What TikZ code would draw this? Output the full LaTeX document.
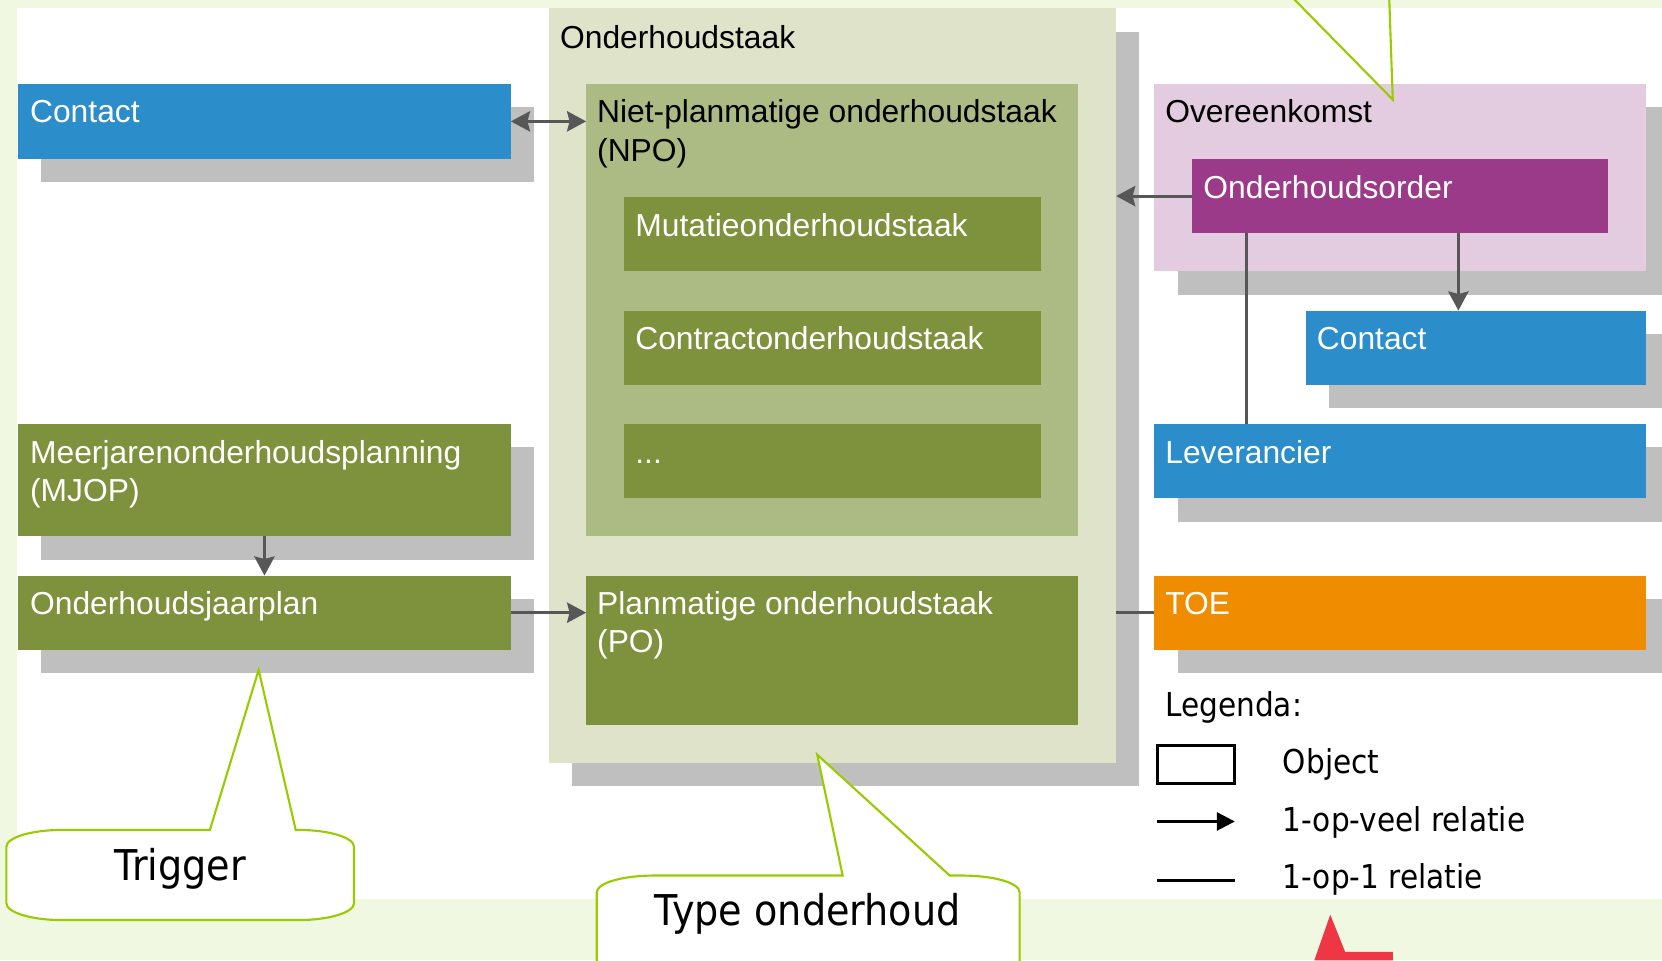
\documentclass[tikz,border=0pt]{standalone}
\usepackage{fontspec}
\setmainfont{Liberation Sans}
\newfontfamily\tahfont[FakeStretch=0.9]{DejaVu Sans}
\usetikzlibrary{arrows.meta,fit,calc}
\definecolor{bggreen}{HTML}{F1F8E2}
\definecolor{sage}{HTML}{DEE3CA}
\definecolor{npogreen}{HTML}{ACBA83}
\definecolor{olive}{HTML}{7E913D}
\definecolor{objblue}{HTML}{2B8ECA}
\definecolor{pinkbg}{HTML}{E4CCE0}
\definecolor{purple}{HTML}{9B3A89}
\definecolor{toeorange}{HTML}{F08C00}
\definecolor{shadowgray}{HTML}{BFBFBF}
\definecolor{conngray}{HTML}{575757}
\definecolor{calloutgreen}{HTML}{99CC00}
\definecolor{redshape}{HTML}{EE3644}
\newcommand\mkbox[6]{\node[objbox, fill=#6, fit={(#2,#3)(#4,#5)}] (#1) {};}
\begin{document}
\begin{tikzpicture}[x=0.5pt,y=-0.5pt,
  objbox/.style={inner sep=0pt, outer sep=0pt, draw=none},
  conn/.style={draw=conngray, line width=1.5pt},
  ahead/.tip={Stealth[length=9pt,width=9.5pt,inset=1.2pt]},
  tip/.style={-ahead},
  lbl/.style={anchor=base west, inner sep=0pt, font=\fontsize{15}{18}\selectfont, align=left},
  wlbl/.style={lbl, text=white},
  tl/.style={anchor=base west, inner sep=0pt, font=\tahfont\fontsize{15.5}{18}\selectfont},
  callout/.style={draw=calloutgreen, line width=1pt, fill=white}]

\useasboundingbox (0,0) rectangle (1568,906);
\clip (0,0) rectangle (1568,906);
\fill[bggreen] (0,0) rectangle (1568,906);
\fill[white] (16,8) rectangle (1568,848);

% shadows
\fill[shadowgray] (39,101) rectangle (504,172);
\fill[shadowgray] (39,422) rectangle (504,528);
\fill[shadowgray] (39,565) rectangle (504,635);
\fill[shadowgray] (540,30) rectangle (1075,742);
\fill[shadowgray] (1111,101) rectangle (1575,278);
\fill[shadowgray] (1254,315) rectangle (1575,385);
\fill[shadowgray] (1111,422) rectangle (1575,492);
\fill[shadowgray] (1111,565) rectangle (1575,635);

% boxes
\mkbox{contactL}{17}{79}{482}{150}{objblue}
\mkbox{mjop}{17}{400}{482}{506}{olive}
\mkbox{jaarplan}{17}{543}{482}{613}{olive}
\mkbox{taak}{518}{8}{1053}{720}{sage}
\mkbox{npo}{553}{79}{1017}{506}{npogreen}
\mkbox{mut}{589}{186}{982}{256}{olive}
\mkbox{contr}{589}{293}{982}{363}{olive}
\mkbox{dots}{589}{400}{982}{470}{olive}
\mkbox{po}{553}{543}{1017}{684}{olive}
\mkbox{overeen}{1089}{79}{1553}{256}{pinkbg}
\mkbox{order}{1125}{150}{1517}{220}{purple}
\mkbox{contactR}{1232}{293}{1553}{363}{objblue}
\mkbox{lev}{1089}{400}{1553}{470}{objblue}
\mkbox{toe}{1089}{543}{1553}{613}{toeorange}

% labels (multi-line nodes: base = baseline of last line)
\node[wlbl] (tContactL) at (28,116) {Contact};
\node[wlbl] (tMjop) at (28,473) {Meerjarenonderhoudsplanning\\(MJOP)};
\node[wlbl] (tJaar) at (28,580) {Onderhoudsjaarplan};
\node[lbl] (tTaak) at (528,46) {Onderhoudstaak};
\node[lbl] (tNpo) at (563,152) {Niet-planmatige onderhoudstaak\\(NPO)};
\node[wlbl] (tMut) at (599,223) {Mutatieonderhoudstaak};
\node[wlbl] (tContr) at (599,330) {Contractonderhoudstaak};
\node[wlbl] (tDots) at (599,437) {...};
\node[wlbl] (tPo) at (563,616) {Planmatige onderhoudstaak\\(PO)};
\node[lbl] (tOver) at (1099,116) {Overeenkomst};
\node[wlbl] (tOrder) at (1135,187) {Onderhoudsorder};
\node[wlbl] (tContactR) at (1242,330) {Contact};
\node[wlbl] (tLev) at (1099,437) {Leverancier};
\node[wlbl] (tToe) at (1099,580) {TOE};

% connectors
\draw[conn, ahead-ahead] (contactL.east) -- (contactL.east -| npo.west);
\draw[conn, tip] (mjop.south) -- (jaarplan.north);
\draw[conn, tip] (jaarplan.east) -- (jaarplan.east -| po.west);
\draw[conn, tip] (order.west) -- (order.west -| taak.east);
\coordinate (oR) at ($(order.south west)!0.64!(order.south east)$);
\draw[conn, tip] (oR) -- (oR |- contactR.north);
\coordinate (oL) at ($(order.south west)!0.13!(order.south east)$);
\draw[conn] (oL) -- (oL |- lev.north);
\draw[conn] (toe.west) -- (toe.west -| taak.east);

% legend
\node[tl] (legTitle) at (1099,676) {Legenda:};
\node[draw=black, line width=1.3pt, inner sep=0pt, fit={(1092,703)(1165,739)}] (legObj) {};
\node[tl] (legObjT) at (1210,730) {Object};
\coordinate (la1) at (1092,775);
\coordinate (la2) at (1165,775);
\draw[black, line width=1.3pt, -{Triangle[length=8.5pt,width=8.5pt]}] (la1) -- (la2);
\node[tl] (legManyT) at (1210,784) {1-op-veel relatie};
\coordinate (lb1) at (1092,831);
\coordinate (lb2) at (1165,831);
\draw[black, line width=1.4pt] (lb1) -- (lb2);
\node[tl] (legOneT) at (1210,838) {1-op-1 relatie};

% callouts
\draw[callout] (198,783) -- (244,632) -- (279,783) -- (282,783)
  .. controls (310,783) and (334,790) .. (334,799) -- (334,852)
  .. controls (334,861) and (310,868) .. (282,868) -- (58,868)
  .. controls (30,868) and (6,861) .. (6,852) -- (6,799)
  .. controls (6,790) and (30,783) .. (58,783) -- cycle;
\node[anchor=base, inner sep=0pt, font=\tahfont\fontsize{20}{24}\selectfont] (trig) at (170,831) {Trigger};

\draw[callout] (795,826) -- (771,712) -- (896,826) -- (907,826)
  .. controls (938,826) and (962,833) .. (962,842) -- (962,960) -- (563,960) -- (563,842)
  .. controls (563,833) and (587,826) .. (618,826) -- cycle;
\node[anchor=base, inner sep=0pt, font=\tahfont\fontsize{20}{24}\selectfont] (typeo) at (762,873) {Type onderhoud};

\draw[draw=calloutgreen, line width=1pt] (1202,-20) -- (1314,94) -- (1310,-20);

% red shape
\fill[redshape] (1240,906) -- (1255,863) -- (1269,898) -- (1314,898) -- (1314,906) -- cycle;
\end{tikzpicture}
\end{document}
